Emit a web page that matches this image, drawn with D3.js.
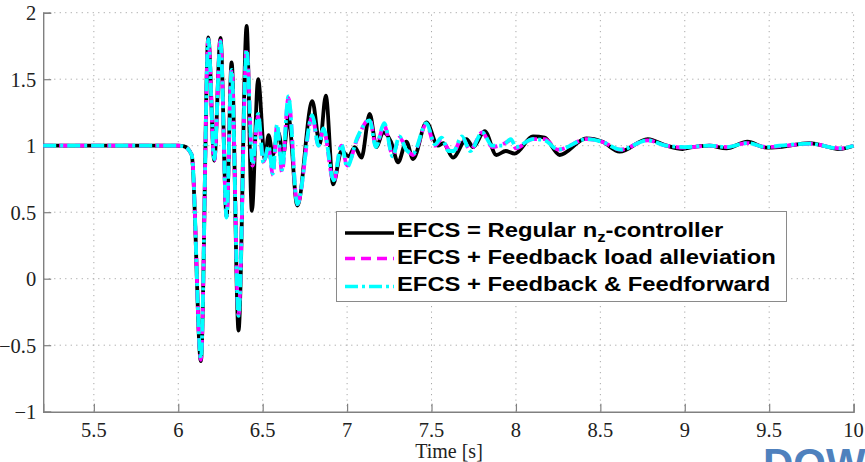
<!DOCTYPE html>
<html>
<head>
<meta charset="utf-8">
<script src="https://cdn.jsdelivr.net/npm/d3@7"></script>
<style>
  html, body { margin: 0; padding: 0; background: #fff; }
  svg { display: block; }
  text.serif { font-family: "Liberation Serif", serif; font-size: 20px; fill: #222; }
  text.sans { font-family: "Liberation Sans", Arial, sans-serif; font-weight: bold; font-size: 20px; fill: #000; }
</style>
</head>
<body>
<svg id="chart" width="865" height="462"></svg>
<script>
// Normal load factor response after a gust, three controller variants.
const xTicks = [5.5, 6, 6.5, 7, 7.5, 8, 8.5, 9, 9.5, 10];
const yTicks = [-1, -0.5, 0, 0.5, 1, 1.5, 2];

// EFCS = Regular nz-controller (time [s], value)
const regularT = [5.2, 6.0, 6.035, 6.08, 6.134, 6.178, 6.213, 6.25, 6.286, 6.316, 6.357, 6.405, 6.436, 6.473,
  6.513, 6.535, 6.56, 6.592, 6.622, 6.652, 6.705, 6.794, 6.838, 6.874, 6.917, 6.967, 7.01, 7.045, 7.085,
  7.134, 7.174, 7.213, 7.26, 7.302, 7.351, 7.391, 7.47, 7.538, 7.57, 7.627, 7.707, 7.746, 7.815, 7.884,
  7.94, 7.992, 8.101, 8.17, 8.259, 8.417, 8.513, 8.614, 8.781, 8.892, 8.988, 9.028, 9.146, 9.247, 9.371,
  9.483, 9.56, 9.738, 9.915, 10.0];
const regularV = [1.0, 1.0, 0.995, 0.93, -0.62, 1.815, 0.887, 1.81, 0.47, 1.627, -0.39, 1.90, 0.51, 1.50,
  0.90, 1.08, 0.93, 1.10, 0.93, 1.22, 0.55, 1.335, 1.01, 1.376, 0.71, 0.96, 0.92, 0.99, 0.91,
  1.24, 0.99, 1.10, 1.03, 0.875, 1.03, 0.90, 1.175, 1.0, 1.02, 0.91, 1.05, 0.99, 1.11, 0.93,
  0.96, 0.94, 1.07, 1.06, 0.93, 1.055, 1.03, 0.955, 1.05, 1.0, 0.975, 0.985, 1.0, 0.98, 1.03,
  0.985, 0.99, 1.02, 0.975, 1.0];

// EFCS + Feedback load alleviation
const feedbackT = [5.2, 6.0, 6.035, 6.08, 6.134, 6.178, 6.213, 6.25, 6.286, 6.316, 6.357, 6.405, 6.44, 6.473,
  6.505, 6.535, 6.56, 6.585, 6.615, 6.652, 6.705, 6.794, 6.83, 6.86, 6.92, 6.967, 7.0, 7.06, 7.134, 7.17,
  7.22, 7.27, 7.31, 7.35, 7.39, 7.47, 7.52, 7.56, 7.6, 7.63, 7.68, 7.73, 7.8, 7.86, 7.92, 7.97, 8.0, 8.1,
  8.17, 8.25, 8.42, 8.51, 8.62, 8.78, 8.89, 9.0, 9.15, 9.25, 9.37, 9.48, 9.56, 9.74, 9.92, 10.0];
const feedbackV = [1.0, 1.0, 0.995, 0.93, -0.61, 1.80, 0.89, 1.79, 0.47, 1.58, -0.27, 1.73, 0.85, 1.22,
  0.88, 0.98, 0.78, 1.15, 0.80, 1.36, 0.56, 1.22, 1.0, 1.12, 0.73, 1.0, 0.85, 1.05, 1.20, 1.0,
  1.15, 0.93, 1.06, 0.98, 0.93, 1.16, 1.0, 1.05, 0.97, 0.95, 1.06, 0.97, 1.1, 0.99, 1.01, 1.04, 0.98, 1.05,
  1.05, 0.97, 1.05, 1.03, 0.97, 1.04, 1.0, 0.985, 1.0, 0.99, 1.02, 0.99, 0.995, 1.015, 0.98, 1.0];

// EFCS + Feedback & Feedforward
const feedforwardT = [5.2, 6.0, 6.035, 6.08, 6.134, 6.178, 6.213, 6.25, 6.286, 6.316, 6.357, 6.405, 6.44, 6.473,
  6.505, 6.535, 6.56, 6.585, 6.615, 6.652, 6.705, 6.794, 6.83, 6.86, 6.92, 6.967, 7.0, 7.06, 7.134, 7.17,
  7.22, 7.27, 7.31, 7.35, 7.39, 7.47, 7.52, 7.56, 7.6, 7.63, 7.68, 7.73, 7.8, 7.86, 7.92, 7.97, 8.0, 8.1,
  8.17, 8.25, 8.42, 8.51, 8.62, 8.78, 8.89, 9.0, 9.15, 9.25, 9.37, 9.48, 9.56, 9.74, 9.92, 10.0];
const feedforwardV = [1.0, 1.0, 0.995, 0.93, -0.60, 1.80, 0.90, 1.78, 0.46, 1.57, -0.28, 1.72, 0.86, 1.24,
  0.87, 1.0, 0.79, 1.16, 0.82, 1.37, 0.56, 1.23, 1.0, 1.13, 0.74, 1.01, 0.84, 1.06, 1.19, 0.99,
  1.17, 0.92, 1.07, 0.97, 0.94, 1.17, 1.01, 1.06, 0.96, 0.96, 1.07, 0.96, 1.1, 1.0, 1.0, 1.05, 0.99, 1.05,
  1.04, 0.97, 1.05, 1.03, 0.97, 1.04, 1.0, 0.99, 1.0, 0.99, 1.02, 0.99, 1.0, 1.015, 0.98, 1.0];

const seriesNames = ["EFCS = Regular n", "EFCS + Feedback load alleviation", "EFCS + Feedback & Feedforward"];
const seriesColors = ["#000000", "#ff00ff", "#00ffff"];
const seriesDash = [null, "10,6", "13,4,3,4"];

const svg = d3.select("#chart");
const x = d3.scaleLinear().domain([5.2, 10]).range([43.2, 853.6]);
const y = d3.scaleLinear().domain([-1, 2]).range([411.7, 12.7]);
const fmt = d => d3.format("~g")(d).replace("-", "\u2212");

// dotted grid
const grid = svg.append("g").attr("stroke", "#a8a8a8").attr("stroke-width", 1)
  .attr("stroke-dasharray", "1.2,4.3");
grid.selectAll("line.v").data(xTicks).join("line").attr("class", "v")
  .attr("x1", d => x(d)).attr("x2", d => x(d)).attr("y1", y(-1)).attr("y2", y(2));
grid.selectAll("line.h").data(yTicks.filter(d => d > -1)).join("line").attr("class", "h")
  .attr("x1", x(5.2)).attr("x2", x(10)).attr("y1", d => y(d)).attr("y2", d => y(d));

// axes with inward ticks; labels are placed separately in a serif face
const gx = svg.append("g").attr("transform", `translate(0,${y(-1)})`)
  .call(d3.axisBottom(x).tickValues(xTicks).tickSize(-8).tickFormat(""));
const gy = svg.append("g").attr("transform", `translate(${x(5.2)},0)`)
  .call(d3.axisLeft(y).tickValues(yTicks).tickSize(-8).tickFormat(""));
[gx, gy].forEach(g => {
  g.select(".domain").attr("stroke", "#808080").attr("stroke-width", 1.4);
  g.selectAll(".tick line").attr("stroke", "#808080").attr("stroke-width", 1.2);
});

svg.append("g").selectAll("text").data(xTicks).join("text")
  .attr("class", "serif").attr("x", d => x(d)).attr("y", y(-1) + 25)
  .attr("text-anchor", "middle").style("font-size", "20.5px").text(fmt);
svg.append("g").selectAll("text").data(yTicks).join("text")
  .attr("class", "serif").attr("x", x(5.2) - 7).attr("y", d => y(d)).attr("dy", "0.36em")
  .attr("text-anchor", "end").style("font-size", "20.5px").text(fmt);

svg.append("text").attr("class", "serif").attr("x", 449).attr("y", 458)
  .attr("text-anchor", "middle").text("Time [s]");

// response curves
const line = d3.line().x(d => x(d[0])).y(d => y(d[1])).curve(d3.curveMonotoneX);
const series = [
  d3.zip(regularT, regularV),
  d3.zip(feedbackT, feedbackV),
  d3.zip(feedforwardT, feedforwardV)
];
series.forEach((pts, i) => {
  svg.append("path").datum(pts).attr("d", line).attr("fill", "none")
    .attr("stroke", seriesColors[i]).attr("stroke-width", 3.8)
    .attr("stroke-linejoin", "round")
    .attr("stroke-dasharray", seriesDash[i]);
});

// legend
const lg = svg.append("g");
lg.append("rect").attr("x", 336.5).attr("y", 211.5).attr("width", 450).attr("height", 90)
  .attr("fill", "#fff").attr("stroke", "#8a8a8a").attr("stroke-width", 1);
const rowBase = [237, 264, 291];
const rowLine = [233, 258.5, 286.5];
seriesNames.forEach((name, i) => {
  lg.append("line").attr("x1", 345).attr("x2", 394).attr("y1", rowLine[i]).attr("y2", rowLine[i])
    .attr("stroke", seriesColors[i]).attr("stroke-width", 3.6)
    .attr("stroke-dasharray", seriesDash[i]);
  const t = lg.append("text").attr("class", "sans")
    .attr("transform", `translate(397,${rowBase[i]}) scale(1.19,1)`);
  t.append("tspan").text(name);
  if (i === 0) {
    t.append("tspan").style("font-size", "14px").attr("dy", 5).text("z");
    t.append("tspan").attr("dy", -5).text("-controller");
  }
});

// watermark
svg.append("text").attr("class", "sans").attr("x", 763).attr("y", 478)
  .style("font-size", "42px").style("fill", "#4f81bd").text("DOW");
</script>
</body>
</html>
